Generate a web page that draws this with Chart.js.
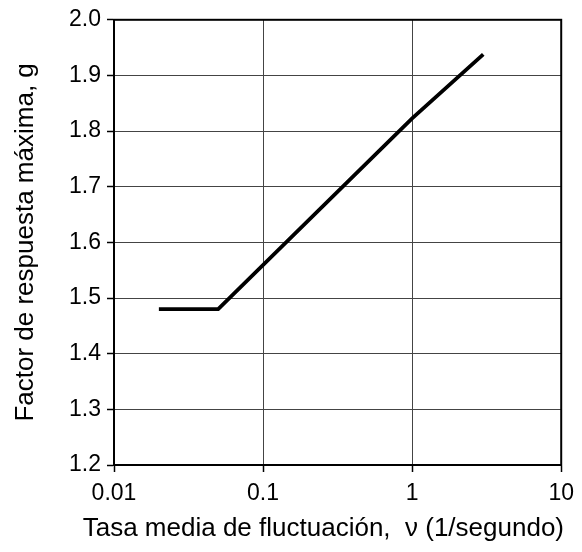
<!DOCTYPE html>
<html lang="es">
<head>
  <meta charset="UTF-8">
  <title>Factor de respuesta máxima</title>
  <script src="https://cdn.jsdelivr.net/npm/chart.js@4.4.0/dist/chart.umd.min.js"></script>
  <style>
    html, body { margin: 0; padding: 0; background: #fff; }
    #wrap { width: 582px; height: 552px; }
  </style>
</head>
<body>
<div id="wrap"><canvas id="peakChart" width="582" height="552"></canvas></div>
<script>
    // curve (log x)
    const rateValues = [0.02, 0.05, 1, 3];
    const factorValues = [1.48, 1.48, 1.823, 1.938];
    const xTickValues = [0.01, 0.1, 1, 10];
    const yTickValues = [1.2, 1.3, 1.4, 1.5, 1.6, 1.7, 1.8, 1.9, 2.0];

    const FONT = "'Liberation Sans', Arial, sans-serif";

    // closes the box on the top and right sides
    const frameBox = {
        id: 'frameBox',
        afterDraw(chart) {
            const a = chart.chartArea;
            const ctx = chart.ctx;
            ctx.save();
            ctx.strokeStyle = '#000';
            ctx.lineWidth = 2;
            ctx.strokeRect(a.left, a.top, a.right - a.left, a.bottom - a.top);
            ctx.restore();
        }
    };

    new Chart("peakChart", {
        type: "line",
        data: {
            datasets: [{
                data: rateValues.map((v, i) => ({ x: v, y: factorValues[i] })),
                borderColor: '#000',
                borderWidth: 3.8,
                pointRadius: 0,
                tension: 0,
                fill: false
            }]
        },
        options: {
            responsive: false,
            animation: false,
            layout: { padding: { top: 14, right: 18, left: 0, bottom: 0 } },
            plugins: {
                legend: { display: false },
                tooltip: { enabled: false },
                // x axis title, done as chart title so it is not squeezed to the plot width
                title: {
                    display: true,
                    position: 'bottom',
                    align: 'end',
                    text: 'Tasa media de fluctuación,  ν (1/segundo)',
                    color: '#000',
                    font: { family: FONT, size: 26, weight: 'normal' },
                    padding: { top: 0, bottom: 8 }
                }
            },
            scales: {
                x: {
                    type: 'logarithmic',
                    min: 0.01,
                    max: 10,
                    afterBuildTicks: (scale) => { scale.ticks = xTickValues.map(v => ({ value: v })); },
                    afterFit: (scale) => { scale.height = 47.8; },
                    ticks: {
                        color: '#000',
                        font: { family: FONT, size: 23 },
                        padding: 8,
                        maxRotation: 0,
                        callback: (value) => String(value)
                    },
                    grid: {
                        color: '#444',
                        lineWidth: 1,
                        borderDash: [1, 2],
                        tickColor: '#000',
                        tickBorderDash: [],
                        tickLength: 7,
                        tickWidth: 1.5
                    },
                    border: { display: true, color: '#000', width: 2 }
                },
                y: {
                    min: 1.2,
                    max: 2.0,
                    afterBuildTicks: (scale) => { scale.ticks = yTickValues.map(v => ({ value: v })); },
                    afterFit: (scale) => { scale.width = 114; },
                    ticks: {
                        color: '#000',
                        font: { family: FONT, size: 23 },
                        padding: 6,
                        callback: (value) => value.toFixed(1)
                    },
                    grid: {
                        color: '#444',
                        lineWidth: 1,
                        borderDash: [1, 2],
                        tickColor: '#000',
                        tickBorderDash: [],
                        tickLength: 7,
                        tickWidth: 1.5
                    },
                    border: { display: true, color: '#000', width: 2 },
                    title: {
                        display: true,
                        text: 'Factor de respuesta máxima, g',
                        color: '#000',
                        font: { family: FONT, size: 26 },
                        padding: { top: 10, bottom: 0 }
                    }
                }
            }
        },
        plugins: [frameBox]
    });
</script>
</body>
</html>
